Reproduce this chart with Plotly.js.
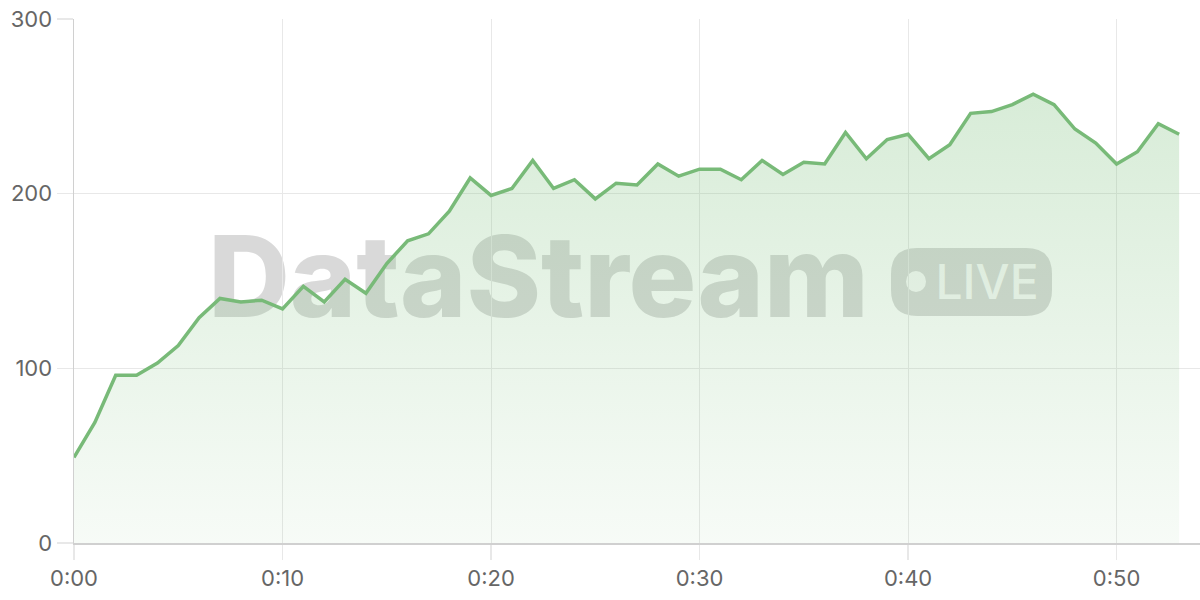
<!DOCTYPE html>
<html>
<head>
<meta charset="utf-8">
<script src="https://cdn.plot.ly/plotly-3.0.1.min.js"></script>
<style>html,body{margin:0;padding:0;background:#fff;}#chart{width:1200px;height:600px;}</style>
</head>
<body>
<div id="chart"></div>
<script>
// ---- data ----
const minutes = [0,1,2,3,4,5,6,7,8,9,10,11,12,13,14,15,16,17,18,19,20,21,22,23,24,25,26,27,28,29,30,31,32,33,34,35,36,37,38,39,40,41,42,43,44,45,46,47,48,49,50,51,52,53];
const values = [49,69,96,96,103,113,129,140,138,139,134,147,138,151,143,160,173,177,190,209,199,203,219,203,208,197,206,205,217,210,214,214,208,219,211,218,217,235,220,231,234,220,228,246,247,251,257,251,237,229,217,224,240,234];
const xTickVals = [0,10,20,30,40,50];
const xTickText = ['0:00','0:10','0:20','0:30','0:40','0:50'];
const yTickVals = [0,100,200,300];
const watermarkText = 'DataStream';
const badgeText = 'LIVE';

// ---- layout helpers (pixel -> paper) ----
const M = {l:74, r:0, t:19, b:57};
const PW = 1200 - M.l - M.r, PH = 600 - M.t - M.b;
const px = p => (p - M.l) / PW;
const py = p => (600 - M.b - p) / PH;

const wmGray = 'rgba(150,150,150,0.36)';
function roundRect(x0p, y0p, x1p, y1p, r) {
  const x0 = px(x0p), x1 = px(x1p), yb = py(y1p), yt = py(y0p);
  const rx = r / PW, ry = r / PH;
  return `M ${x0+rx},${yb} L ${x1-rx},${yb} Q ${x1},${yb} ${x1},${yb+ry} L ${x1},${yt-ry} Q ${x1},${yt} ${x1-rx},${yt} L ${x0+rx},${yt} Q ${x0},${yt} ${x0},${yt-ry} L ${x0},${yb+ry} Q ${x0},${yb} ${x0+rx},${yb} Z`;
}

const trace = {
  x: minutes, y: values, type: 'scatter', mode: 'lines',
  line: {color: 'rgb(120,186,120)', width: 3.5},
  fill: 'tozeroy',
  fillgradient: {type: 'vertical', start: 0, stop: 300,
    colorscale: [[0, 'rgba(120,190,120,0.06)'], [1, 'rgba(120,190,120,0.33)']]},
  hoverinfo: 'skip'
};

const layout = {
  width: 1200, height: 600,
  margin: M,
  paper_bgcolor: '#fff', plot_bgcolor: '#fff',
  showlegend: false,
  font: {family: 'Inter, "Open Sans", sans-serif', size: 22, color: '#666'},
  xaxis: {
    range: [0, 54], tickmode: 'array', tickvals: xTickVals, ticktext: xTickText,
    showgrid: true, gridcolor: '#e8e8e8', gridwidth: 1,
    showline: true, linecolor: '#d0d0d0', linewidth: 1.5,
    ticks: 'outside', ticklen: 15, tickcolor: '#e8e8e8', tickwidth: 1.5,
    zeroline: false, fixedrange: true
  },
  yaxis: {
    range: [0, 300], tickmode: 'array', tickvals: yTickVals,
    showgrid: true, gridcolor: '#e8e8e8', gridwidth: 1,
    showline: true, linecolor: '#d0d0d0', linewidth: 1.5,
    ticks: 'outside', ticklen: 16, tickcolor: '#e8e8e8', tickwidth: 1.5,
    zeroline: false, fixedrange: true
  },
  shapes: [
    {type: 'rect', xref: 'paper', yref: 'paper', layer: 'below',
     x0: px(190), x1: px(887), y0: py(332), y1: py(211),
     line: {width: 0}, fillcolor: 'rgba(0,0,0,0)',
     label: {text: watermarkText, textposition: 'middle center',
       font: {family: 'Inter, sans-serif', size: 113, weight: 800, color: wmGray}}},
    {type: 'path', xref: 'paper', yref: 'paper', layer: 'below',
     path: roundRect(891, 248, 1052, 316, 26),
     line: {width: 0}, fillcolor: wmGray},
    {type: 'circle', xref: 'paper', yref: 'paper', layer: 'below',
     x0: px(906), x1: px(926), y0: py(292), y1: py(271),
     line: {width: 0}, fillcolor: 'rgba(255,255,255,0.85)'},
    {type: 'rect', xref: 'paper', yref: 'paper', layer: 'below',
     x0: px(930), x1: px(1044), y0: py(310), y1: py(250),
     line: {width: 0}, fillcolor: 'rgba(0,0,0,0)',
     label: {text: badgeText, textposition: 'middle center',
       font: {family: 'Inter, sans-serif', size: 48, weight: 500, color: 'rgba(255,255,255,0.85)'}}}
  ]
};

Plotly.newPlot('chart', [trace], layout, {displayModeBar: false, staticPlot: true});
</script>
</body>
</html>
